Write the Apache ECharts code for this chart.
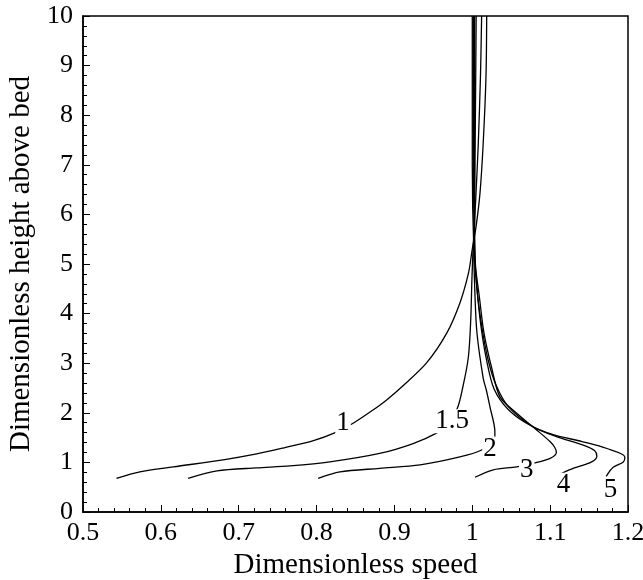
<!DOCTYPE html>
<html>
<head>
<meta charset="utf-8">
<script src="https://cdn.jsdelivr.net/npm/echarts@6/dist/echarts.min.js"></script>
<style>html,body{margin:0;padding:0;background:#fff}#c{width:643px;height:580px}</style>
</head>
<body>
<div id="c"></div>
<script>
// Profiles: [dimensionless speed, dimensionless height]
const curve1 = [[0.543,0.68],[0.573,0.81],[0.616,0.91],[0.680,1.05],[0.723,1.17],[0.757,1.29],[0.796,1.44],[0.824,1.60],[0.848,1.80],[0.871,2.04],[0.890,2.26],[0.910,2.53],[0.941,3.0],[0.967,3.6],[0.984,4.21],[0.995,4.81],[1.000,5.3],[1.0048,5.75],[1.0099,6.43],[1.014,7.43],[1.0176,8.78],[1.0185,10]];
const curve15 = [[0.635,0.68],[0.672,0.83],[0.723,0.89],[0.766,0.93],[0.817,1.01],[0.881,1.18],[0.924,1.38],[0.954,1.59],[0.963,1.72],[0.980,2.06],[0.988,2.53],[0.995,3.13],[0.998,3.87],[0.9995,4.68],[1.001,5.3],[1.0026,5.75],[1.0048,6.43],[1.0077,7.43],[1.0105,8.78],[1.012,10]];
const curve2 = [[0.802,0.68],[0.830,0.81],[0.881,0.88],[0.933,0.95],[0.984,1.11],[1.012,1.25],[1.029,1.45],[1.029,1.62],[1.0227,2.12],[1.018,2.46],[1.014,2.70],[1.006,3.61],[1.0035,4.35],[1.002,5.3],[1.003,6.5],[1.004,8],[1.005,10]];
const curve3 = [[1.0035,0.70],[1.027,0.85],[1.057,0.91],[1.083,1.0],[1.100,1.08],[1.108,1.2],[1.106,1.3],[1.0998,1.42],[1.083,1.65],[1.057,1.99],[1.0356,2.32],[1.025,2.9],[1.015,3.61],[1.009,4.35],[1.004,5.0],[1.003,6],[1.003,10]];
const curve4 = [[1.115,0.78],[1.131,0.89],[1.152,1.0],[1.160,1.12],[1.157,1.24],[1.1426,1.35],[1.108,1.52],[1.078,1.72],[1.0465,2.12],[1.0305,2.56],[1.020,3.09],[1.012,3.76],[1.006,4.5],[1.003,5.3],[1.0015,7],[1.0015,10]];
const curve5 = [[1.172,0.72],[1.181,0.90],[1.194,1.01],[1.196,1.11],[1.173,1.28],[1.141,1.42],[1.104,1.56],[1.073,1.76],[1.0465,2.06],[1.028,2.48],[1.018,3.09],[1.011,3.76],[1.006,4.5],[1.002,5.3],[1.000,7],[1.000,10]];
const curveLabels = ['1','1.5','2','3','4','5'];
const labelPositions = [[0.834,1.79],[0.974,1.83],[1.0227,1.28],[1.0699,0.85],[1.117,0.55],[1.1775,0.44]];
const xTicks = {min:0.5, max:1.2, step:0.1};
const yTicks = {min:0, max:10, step:1};

const font = 'Liberation Serif';
const curves = [curve1, curve15, curve2, curve3, curve4, curve5];
const lineSeries = curves.map((d, i) => ({
  type: 'line', name: curveLabels[i], data: d, showSymbol: false, symbol: 'none',
  smooth: 0.3,
  lineStyle: {color: '#000', width: 1.3}, z: 2, silent: true
}));
const chart = echarts.init(document.getElementById('c'), null, {renderer: 'canvas'});
const axisCommon = {
  axisLine: {show: true, lineStyle: {color: '#000', width: 1.5}},
  axisTick: {show: true, inside: true, length: 7, lineStyle: {color: '#000', width: 1}},
  minorTick: {show: true, splitNumber: 5, length: 4, lineStyle: {color: '#000', width: 1}},
  splitLine: {show: false},
  axisLabel: {color: '#000', fontFamily: font, fontSize: 26},
  nameTextStyle: {color: '#000', fontFamily: font, fontSize: 29}
};
chart.setOption({
  animation: false,
  backgroundColor: '#fff',
  grid: {left: 83, right: 15, top: 16, bottom: 68, show: true, borderColor: '#000', borderWidth: 1.5,
    backgroundColor: 'transparent', containLabel: false, outerBoundsMode: 'none'},
  xAxis: Object.assign({}, axisCommon, {
    type: 'value', min: xTicks.min, max: xTicks.max, interval: xTicks.step,
    name: 'Dimensionless speed', nameLocation: 'middle', nameGap: 33,
    axisLabel: Object.assign({}, axisCommon.axisLabel, {margin: 8})
  }),
  yAxis: Object.assign({}, axisCommon, {
    type: 'value', min: yTicks.min, max: yTicks.max, interval: yTicks.step,
    name: 'Dimensionless height above bed', nameLocation: 'middle', nameGap: 47,
    axisLabel: Object.assign({}, axisCommon.axisLabel, {margin: 10})
  }),
  series: lineSeries.concat([{
    type: 'scatter', symbolSize: 0, z: 10, silent: true,
    itemStyle: {opacity: 1},
    data: labelPositions.map((p, i) => ({value: p, name: curveLabels[i]})),
    label: {show: true, position: 'inside', formatter: p => p.name, color: '#000', opacity: 1,
      fontFamily: font, fontSize: 27, backgroundColor: '#fff', padding: [0, 1], lineHeight: 24}
  }])
});
</script>
</body>
</html>
